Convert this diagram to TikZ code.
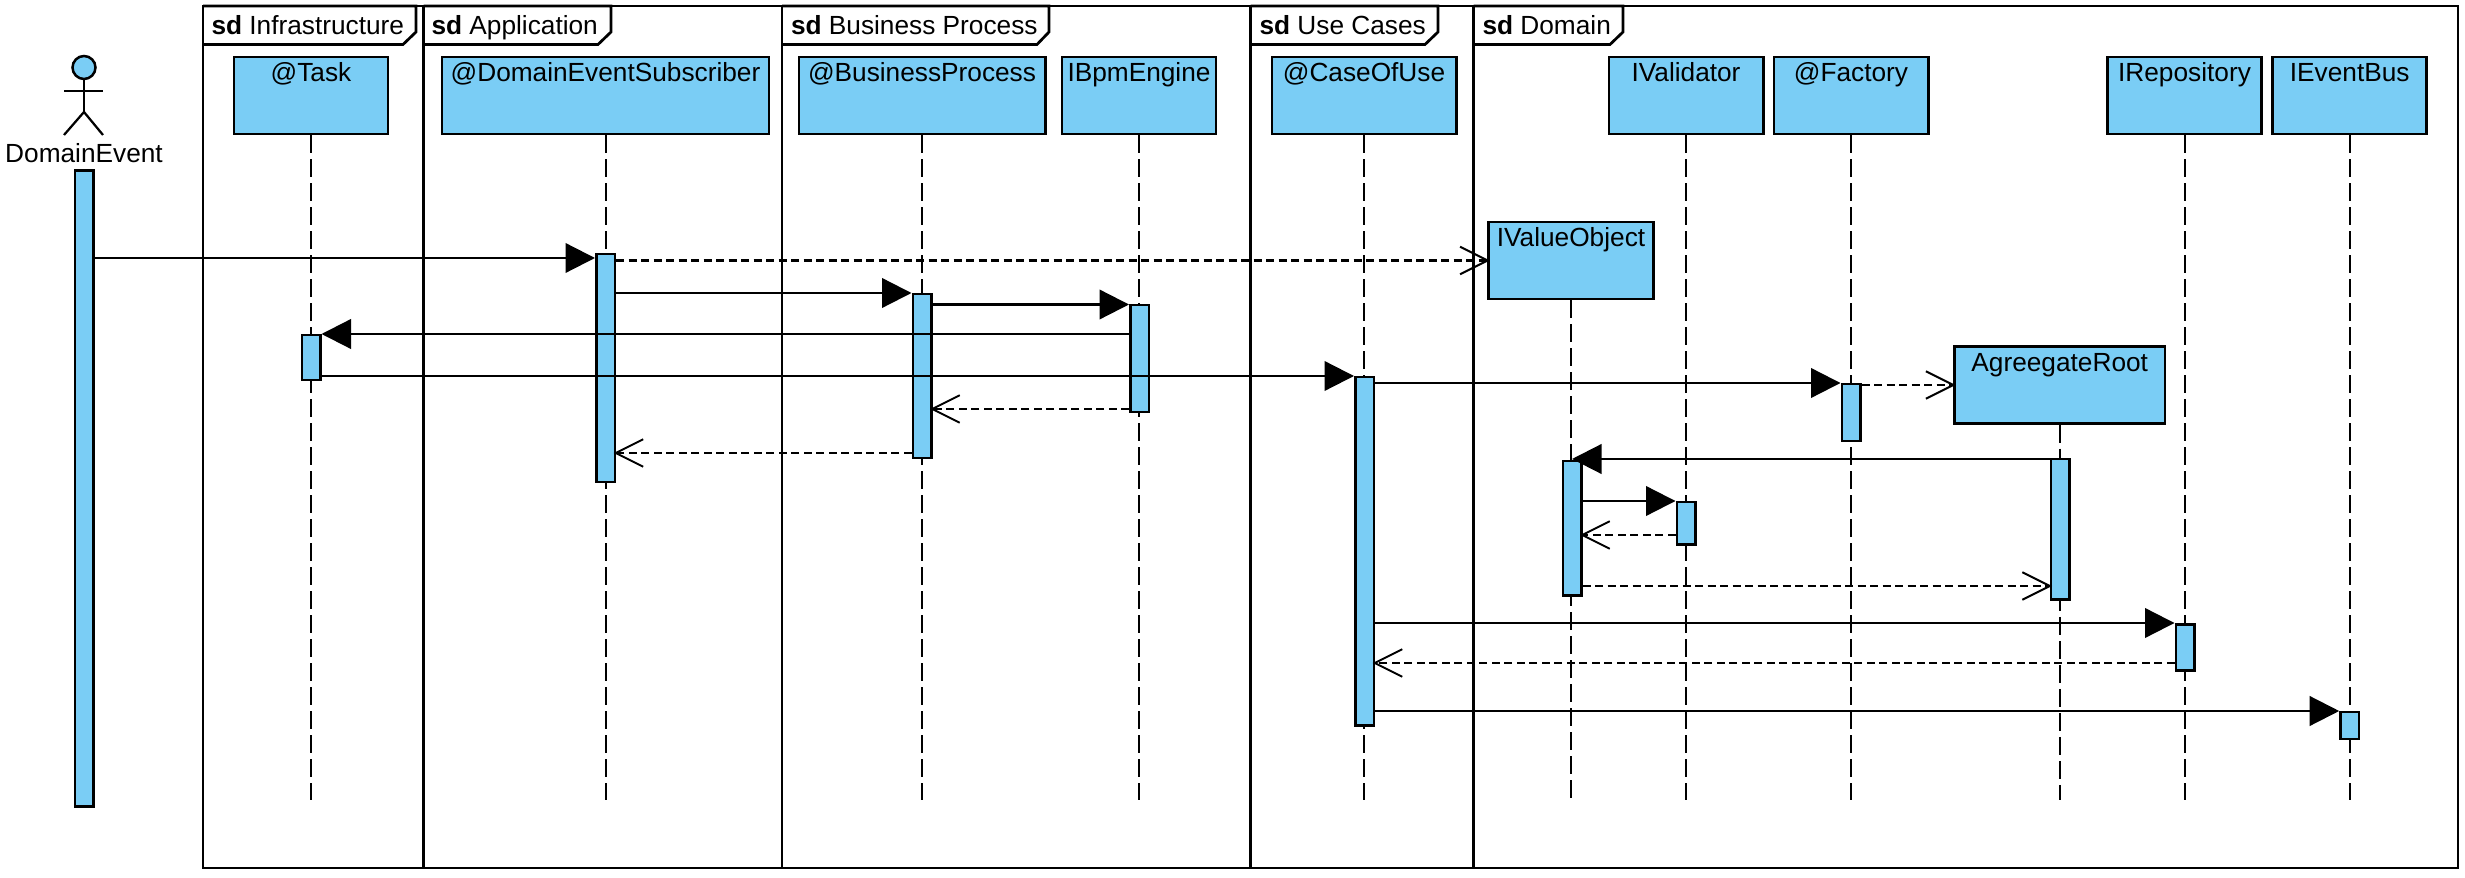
\documentclass[tikz,border=0pt]{standalone}
\usepackage{fontspec}
\setmainfont{Liberation Sans}
\usepackage{xcolor}
\usepackage{tikz}
\usetikzlibrary{arrows.meta}
\definecolor{boxblue}{HTML}{7ACDF5}
\tikzset{
	frameline/.style={line width=1.1pt,black},
	tabtext/.style={anchor=base west,inner sep=0pt,font=\fontsize{10.5}{12.5}\selectfont},
	lifebox/.style={draw=black,fill=boxblue,line width=1pt,inner xsep=0pt,inner ysep=0pt,minimum width=#1*0.4pt,text height=10pt,text depth=20.8pt,font=\fontsize{10.5}{12.5}\selectfont},
	actbar/.style={draw=black,fill=boxblue,line width=1pt,inner sep=0pt,anchor=north,minimum width=7.4pt,minimum height=#1*0.4pt},
	lifeline/.style={line width=0.8pt,dash pattern=on 7.2pt off 2.4pt},
	msg/.style={-{Triangle[length=11.8pt,width=11.8pt]},line width=0.9pt},
	backmsg/.style={-{Straight Barb[length=11pt,width=11pt,line width=0.8pt]},line width=0.9pt,dash pattern=on 3.2pt off 1.8pt,shorten >=-1pt}
}
\begin{document}
\begin{tikzpicture}[x=0.4pt,y=-0.4pt]
	\useasboundingbox (0,0) rectangle (2465,878);
	% frames
	\draw[frameline] (203,6) rectangle (2458,868);
	\draw[frameline] (423.5,6) -- (423.5,868);
	\draw[frameline] (782,6) -- (782,868);
	\draw[frameline] (1250.5,6) -- (1250.5,868);
	\draw[frameline] (1473.5,6) -- (1473.5,868);
	\draw[frameline] (203,6) -- (416,6) -- (416,32) -- (403,44.5) -- (203,44.5);
	\draw[frameline] (423.5,6) -- (611,6) -- (611,32) -- (598,44.5) -- (423.5,44.5);
	\draw[frameline] (782,6) -- (1049,6) -- (1049,32) -- (1037,44.5) -- (782,44.5);
	\draw[frameline] (1250.5,6) -- (1438,6) -- (1438,32) -- (1425,44.5) -- (1250.5,44.5);
	\draw[frameline] (1473.5,6) -- (1623,6) -- (1623,32) -- (1610,44.5) -- (1473.5,44.5);
	\node[tabtext] (tabInfra) at (211,34.5) {\textbf{sd} Infrastructure};
	\node[tabtext] (tabApp) at (431,34.5) {\textbf{sd} Application};
	\node[tabtext] (tabBusiness) at (790.5,34.5) {\textbf{sd} Business Process};
	\node[tabtext] (tabCases) at (1259,34.5) {\textbf{sd} Use Cases};
	\node[tabtext] (tabDomain) at (1482,34.5) {\textbf{sd} Domain};
	% actor
	\node[circle,draw=black,fill=boxblue,line width=1pt,inner sep=0pt,minimum size=9.2pt] (headDomain) at (84,67.5) {};
	\coordinate (hipDomain) at (84,112);
	\draw[line width=0.9pt] (headDomain.south) -- (hipDomain);
	\draw[line width=0.9pt] (64,91) -- (103,91);
	\draw[line width=0.9pt] (64,135) -- (hipDomain) -- (103,135);
	\node[font=\fontsize{10.5}{12.5}\selectfont,inner sep=0pt] (txtDomain) at (84,153) {DomainEvent};
	% objects
	\node[lifebox=154] (boxTask) at (311,95.5) {@Task};
	\node[lifebox=327] (boxSub) at (605.5,95.5) {@DomainEventSubscriber};
	\node[lifebox=246.5] (boxBusiness) at (922,95.5) {@BusinessProcess};
	\node[lifebox=154] (boxBpm) at (1139,95.5) {IBpmEngine};
	\node[lifebox=184.5] (boxCase) at (1364,95.5) {@CaseOfUse};
	\node[lifebox=154.5] (boxValidator) at (1686,95.5) {IValidator};
	\node[lifebox=154.5] (boxFactory) at (1851,95.5) {@Factory};
	\node[lifebox=154] (boxRepo) at (2184.5,95.5) {IRepository};
	\node[lifebox=154] (boxBus) at (2349.7,95.5) {IEventBus};
	\node[lifebox=165] (boxValue) at (1571,260.5) {IValueObject};
	\node[lifebox=210.7] (boxRoot) at (2059.7,385) {AgreegateRoot};
	% lifelines
	\draw[lifeline] (boxTask.south) -- (boxTask.south |- 0,800);
	\draw[lifeline] (boxSub.south) -- (boxSub.south |- 0,800);
	\draw[lifeline] (boxBusiness.south) -- (boxBusiness.south |- 0,800);
	\draw[lifeline] (boxBpm.south) -- (boxBpm.south |- 0,800);
	\draw[lifeline] (boxCase.south) -- (boxCase.south |- 0,800);
	\draw[lifeline] (boxValidator.south) -- (boxValidator.south |- 0,800);
	\draw[lifeline] (boxFactory.south) -- (boxFactory.south |- 0,800);
	\draw[lifeline] (boxRepo.south) -- (boxRepo.south |- 0,800);
	\draw[lifeline] (boxBus.south) -- (boxBus.south |- 0,800);
	\draw[lifeline] (boxValue.south) -- (boxValue.south |- 0,803);
	\draw[lifeline] (boxRoot.south) -- (boxRoot.south |- 0,800);
	% activations
	\node[actbar=635.5] (actDomain) at (84,169.5) {};
	\node[actbar=228] (actSub) at (605.5,253) {};
	\node[actbar=45] (actTask) at (311,334) {};
	\node[actbar=164] (actBusiness) at (922,293) {};
	\node[actbar=107] (actBpm) at (1139.5,304) {};
	\node[actbar=348] (actCase) at (1364.5,376) {};
	\node[actbar=57] (actFactory) at (1851,383) {};
	\node[actbar=134] (actValue) at (1572,460) {};
	\node[actbar=42] (actValidator) at (1686,501) {};
	\node[actbar=140] (actRoot) at (2060,458) {};
	\node[actbar=46] (actRepo) at (2185,623) {};
	\node[actbar=27] (actBus) at (2349.7,710.5) {};
	% messages
	\draw[msg] (actDomain.east |- 0,258) -- (actSub.west |- 0,258);
	\draw[backmsg] (actSub.east |- 0,260.5) -- (boxValue.west);
	\draw[msg] (actSub.east |- 0,293) -- (actBusiness.west |- 0,293);
	\draw[msg] (actBusiness.east |- 0,304.5) -- (actBpm.west |- 0,304.5);
	\draw[msg] (actBpm.west |- 0,334) -- (actTask.east |- 0,334);
	\draw[msg] (actTask.east |- 0,376) -- (actCase.west |- 0,376);
	\draw[backmsg] (actBpm.west |- 0,409) -- (actBusiness.east |- 0,409);
	\draw[backmsg] (actBusiness.west |- 0,453) -- (actSub.east |- 0,453);
	\draw[msg] (actCase.east |- 0,383) -- (actFactory.west |- 0,383);
	\draw[backmsg] (actFactory.east |- 0,385) -- (boxRoot.west);
	\draw[msg] (actRoot.west |- 0,459) -- (actValue.center |- 0,459);
	\draw[msg] (actValue.east |- 0,501) -- (actValidator.west |- 0,501);
	\draw[backmsg] (actValidator.west |- 0,535) -- (actValue.east |- 0,535);
	\draw[backmsg] (actValue.east |- 0,586) -- (actRoot.west |- 0,586);
	\draw[msg] (actCase.east |- 0,623) -- (actRepo.west |- 0,623);
	\draw[backmsg] (actRepo.west |- 0,663) -- (actCase.east |- 0,663);
	\draw[msg] (actCase.east |- 0,711) -- (actBus.west |- 0,711);
\end{tikzpicture}
\end{document}
